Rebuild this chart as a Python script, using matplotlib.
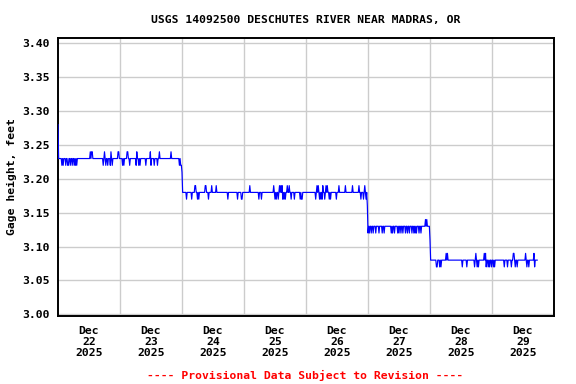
import numpy as np
import matplotlib
matplotlib.use("Agg")
import matplotlib.pyplot as plt

# Hours since 2025-12-22 00:00, 15-minute gage height readings
title = "USGS 14092500 DESCHUTES RIVER NEAR MADRAS, OR"
ylabel = "Gage height, feet"
footer = "---- Provisional Data Subject to Revision ----"

sample_step_hours = 0.25
last_hour = 185.5

# baseline gage height levels and the hour at which each begins
level_start_hours = [0.0, 48.25, 120.25, 144.25]
level_values = [3.23, 3.18, 3.13, 3.08]

# individual readings that depart from the baseline (hour, value)
event_hours = [
    0.0, 1.43, 1.94, 3.10, 3.68, 4.06, 4.65, 5.42, 6.19, 6.77, 7.35,
    12.39, 12.97, 13.35, 17.42, 18.0, 18.58, 19.35, 20.13, 20.52, 20.90, 23.23,
    23.42, 24.97, 25.55, 26.71, 27.10, 27.68, 27.87, 30.19, 30.58, 31.35, 31.74,
    33.95, 35.73, 36.0, 37.16, 38.44, 39.21, 43.86, 46.95, 47.50, 47.75, 48.0,
    49.82, 51.75, 52.92, 53.30, 53.92, 54.58, 56.90, 57.29, 58.34, 59.61, 61.16,
    65.69, 69.41, 71.11,
    71.23, 74.32, 77.69, 78.70, 83.50, 84.12, 84.58, 85.16, 85.66, 86.13, 86.71,
    86.98, 87.48, 87.99, 88.65, 89.54, 90.19, 91.47, 93.79, 94.18, 94.45,
    99.75, 100.37, 100.76, 101.22, 101.69, 102.31, 102.58, 103.35, 103.63, 104.13,
    104.90, 105.56, 107.73, 108.77, 111.37, 113.92, 116.52, 117.17, 118.18, 118.84,
    119.23, 119.75, 120.0,
    120.52, 121.16, 122.06, 123.10, 124.14, 125.42, 126.32, 128.90, 129.56, 130.18,
    131.50, 132.12, 132.77, 133.43, 134.44, 135.37, 135.97, 137.03, 137.69, 138.31,
    138.85, 139.63, 140.52, 142.19, 142.84, 144.0,
    146.44, 146.83, 147.87, 148.37, 150.31, 150.70, 156.50, 158.21, 161.30, 161.69,
    162.19, 162.85, 164.90, 165.41, 165.79, 166.45, 167.03, 167.73, 168.39, 169.05,
    172.65, 173.93, 175.48, 176.13, 176.52, 177.03, 177.80, 181.05, 181.44, 181.55,
    182.21, 184.26, 184.53,
]
event_values = [
    3.28, 3.22, 3.22, 3.22, 3.22, 3.22, 3.22, 3.22, 3.22, 3.22, 3.22,
    3.24, 3.24, 3.24, 3.22, 3.24, 3.22, 3.22, 3.22, 3.24, 3.22, 3.24,
    3.24, 3.22, 3.22, 3.24, 3.24, 3.24, 3.22, 3.22, 3.24, 3.22, 3.22,
    3.22, 3.24, 3.22, 3.22, 3.22, 3.24, 3.24, 3.22, 3.22, 3.22, 3.21,
    3.17, 3.17, 3.19, 3.19, 3.17, 3.17, 3.19, 3.19, 3.17, 3.19, 3.19,
    3.17, 3.17, 3.17,
    3.17, 3.19, 3.17, 3.17, 3.19, 3.17, 3.17, 3.17, 3.19, 3.19, 3.19,
    3.17, 3.17, 3.17, 3.19, 3.19, 3.17, 3.17, 3.17, 3.17, 3.17,
    3.17, 3.19, 3.19, 3.17, 3.17, 3.17, 3.19, 3.17, 3.19, 3.19,
    3.17, 3.17, 3.17, 3.19, 3.19, 3.19, 3.19, 3.17, 3.17, 3.19,
    3.17, 3.16, 3.12,
    3.12, 3.12, 3.12, 3.12, 3.12, 3.12, 3.12, 3.12, 3.12, 3.12,
    3.12, 3.12, 3.12, 3.12, 3.12, 3.12, 3.12, 3.12, 3.12, 3.12,
    3.12, 3.12, 3.12, 3.14, 3.14, 3.11,
    3.07, 3.07, 3.07, 3.07, 3.09, 3.09, 3.07, 3.07, 3.07, 3.09,
    3.07, 3.07, 3.09, 3.09, 3.07, 3.07, 3.07, 3.07, 3.07, 3.07,
    3.07, 3.07, 3.07, 3.09, 3.09, 3.07, 3.07, 3.09, 3.09, 3.07,
    3.07, 3.09, 3.07,
]

day_labels = ["Dec\n22\n2025", "Dec\n23\n2025", "Dec\n24\n2025", "Dec\n25\n2025",
              "Dec\n26\n2025", "Dec\n27\n2025", "Dec\n28\n2025", "Dec\n29\n2025"]
y_ticks = [3.00, 3.05, 3.10, 3.15, 3.20, 3.25, 3.30, 3.35, 3.40]

# build the 15-minute series from the read levels and readings
hours = np.arange(0, last_hour + 1e-9, sample_step_hours)
values = np.empty_like(hours)
for start, lev in zip(level_start_hours, level_values):
    values[hours >= start - 1e-9] = lev
for h, v in zip(event_hours, event_values):
    idx = int(round(h / sample_step_hours))
    if 0 <= idx < len(values):
        values[idx] = v

font = "DejaVu Sans Mono"
fs = 8.2

fig = plt.figure(figsize=(5.76, 3.84), dpi=100)
ax = fig.add_axes([58 / 576, 1 - 316 / 384, (554 - 58) / 576, (316 - 38) / 384])

ax.plot(hours, values, color="#0000ff", lw=0.85, zorder=3)

ax.set_xlim(0, 192)
ax.set_ylim(2.9975, 3.408)

ax.set_xticks(np.arange(24, 192, 24), minor=True)
ax.set_xticks(np.arange(12, 192, 24))
ax.set_xticklabels(day_labels, fontfamily=font, fontweight="bold", fontsize=fs,
                   linespacing=1.15)
ax.set_yticks(y_ticks)
ax.set_yticklabels([f"{t:.2f}" for t in y_ticks], fontfamily=font,
                   fontweight="bold", fontsize=fs)
ax.tick_params(axis="both", which="both", length=0)
ax.tick_params(axis="x", pad=7)
ax.tick_params(axis="y", pad=6)

ax.grid(False)
ax.grid(True, which="minor", axis="x", color="#cccccc", lw=1.0)
ax.grid(True, which="major", axis="y", color="#cccccc", lw=1.0)
ax.set_axisbelow(True)

for sp in ax.spines.values():
    sp.set_linewidth(1.4)
    sp.set_color("black")

ax.set_ylabel(ylabel, fontfamily=font, fontweight="bold", fontsize=fs)
ax.yaxis.set_label_coords((17 - 58) / 496, 0.5)

fig.text((58 + 554) / 2 / 576, 1 - 20 / 384, title, ha="center", va="center",
         fontfamily=font, fontweight="bold", fontsize=fs)
fig.text(305 / 576, 1 - 375 / 384, footer, ha="center", va="center",
         fontfamily=font, fontweight="bold", fontsize=fs, color="red")

fig.savefig("out.png", dpi=100)
